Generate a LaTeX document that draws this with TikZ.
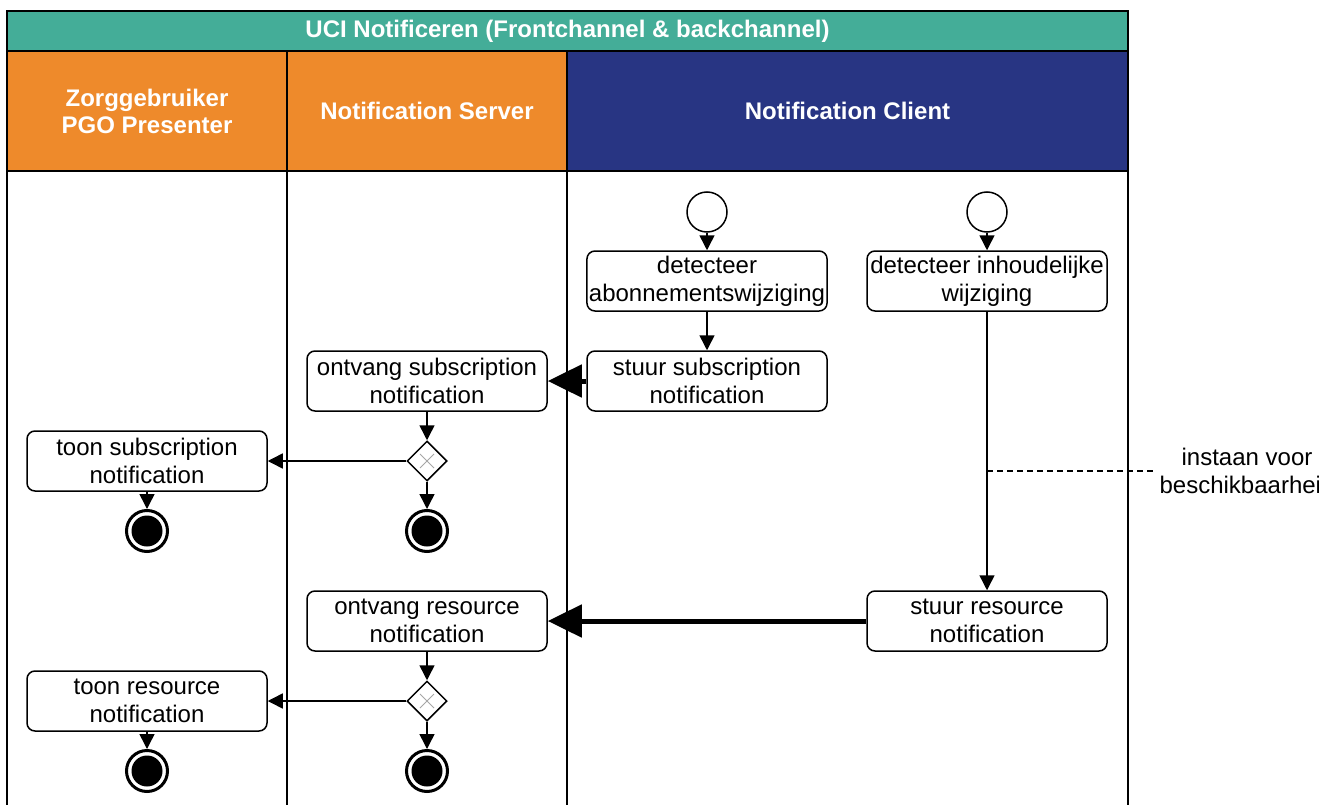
\documentclass[tikz,border=0pt]{standalone}
\usepackage{fontspec}
\setmainfont{Liberation Sans}
\usepackage{tikz}
\usetikzlibrary{arrows.meta,calc,positioning,shapes.geometric}

\definecolor{poolteal}{HTML}{44AD98}
\definecolor{laneorange}{HTML}{EE8A2B}
\definecolor{lanenavy}{HTML}{283583}

\begin{document}
\begin{tikzpicture}[x=1pt,y=-1pt,
  font=\fontsize{24}{28}\selectfont,
  task/.style={draw,line width=1.5pt,rounded corners=8pt,minimum width=240pt,
    minimum height=60pt,align=center,inner sep=2pt,fill=white},
  startev/.style={draw,circle,line width=1.5pt,minimum size=40pt,inner sep=0pt,fill=white},
  endev/.style={draw,circle,line width=3pt,minimum size=41pt,inner sep=0pt,fill=white,
    path picture={\fill[black] (path picture bounding box.center) circle (15.5pt);}},
  xgate/.style={draw,diamond,line width=1.5pt,minimum width=40pt,minimum height=40pt,
    inner sep=0pt,fill=white,
    path picture={\draw[gray!70,line width=0.8pt]
      ($(path picture bounding box.center)+(-7pt,-7pt)$) -- ($(path picture bounding box.center)+(7pt,7pt)$)
      ($(path picture bounding box.center)+(-7pt,7pt)$) -- ($(path picture bounding box.center)+(7pt,-7pt)$);}},
  flow/.style={line width=1.5pt,-{Triangle[length=15pt,width=15pt]}},
  msg/.style={line width=5pt,-{Triangle[length=34pt,width=32pt]}},
  hdr/.style={text=white,font=\fontsize{24}{27}\selectfont\bfseries,align=center}]
  \useasboundingbox (0,0) rectangle (1319,805);

  \fill[poolteal] (7,11) rectangle (1128,51);
  \fill[laneorange] (7,51) rectangle (567,171);
  \fill[lanenavy] (567,51) rectangle (1128,171);
  \draw[line width=1.5pt] (7,805) -- (7,11) -- (1128,11) -- (1128,805);
  \draw[line width=1.5pt] (7,51) -- (1128,51) (7,171) -- (1128,171);
  \draw[line width=1.5pt] (287,51) -- (287,805) (567,51) -- (567,805);
  \node[hdr] (pool) at (567.5,31) {UCI Notificeren (Frontchannel \& backchannel)};
  \node[hdr] (laneUser) at (147,111) {Zorggebruiker\\PGO Presenter};
  \node[hdr] (laneServer) at (427,111) {Notification Server};
  \node[hdr] (laneClient) at (847.5,111) {Notification Client};

  \node[startev] (startAbo) at (707,212) {};
  \node[startev] (startInh) at (987,212) {};
  \node[task] (detAbo) at (707,281) {detecteer\\abonnementswijziging};
  \node[task] (detInh) at (987,281) {detecteer inhoudelijke\\wijziging};
  \node[task] (stuurSub) at (707,381) {stuur subscription\\notification};
  \node[task] (ontvSub) at (427,381) {ontvang subscription\\notification};
  \node[xgate] (gwSub) at (427,461) {};
  \node[task] (toonSub) at (147,461) {toon subscription\\notification};
  \node[endev] (endToonSub) at (147,531) {};
  \node[endev] (endSub) at (427,531) {};

  \node[task] (stuurRes) at (987,621) {stuur resource\\notification};
  \node[task] (ontvRes) at (427,621) {ontvang resource\\notification};
  \node[xgate] (gwRes) at (427,701) {};
  \node[task] (toonRes) at (147,701) {toon resource\\notification};
  \node[endev] (endToonRes) at (147,771) {};
  \node[endev] (endRes) at (427,771) {};

  \coordinate (annPt) at (987,471);
  \node[align=center] (annot) at (1247,471) {instaan voor\\beschikbaarheid};

  \draw[flow] (startAbo) -- (detAbo);
  \draw[flow] (detAbo) -- (stuurSub);
  \draw[msg] (stuurSub) -- (ontvSub);
  \draw[flow] (ontvSub) -- (gwSub);
  \draw[flow] (gwSub) -- (toonSub);
  \draw[flow] (gwSub) -- (endSub);
  \draw[flow] (toonSub) -- (endToonSub);

  \draw[flow] (startInh) -- (detInh);
  \draw[flow] (detInh) -- (stuurRes);
  \draw[msg] (stuurRes) -- (ontvRes);
  \draw[flow] (ontvRes) -- (gwRes);
  \draw[flow] (gwRes) -- (toonRes);
  \draw[flow] (gwRes) -- (endRes);
  \draw[flow] (toonRes) -- (endToonRes);

  \draw[line width=1.5pt,dash pattern=on 6pt off 4pt] (annPt) -- (annot.west);
\end{tikzpicture}
\end{document}
